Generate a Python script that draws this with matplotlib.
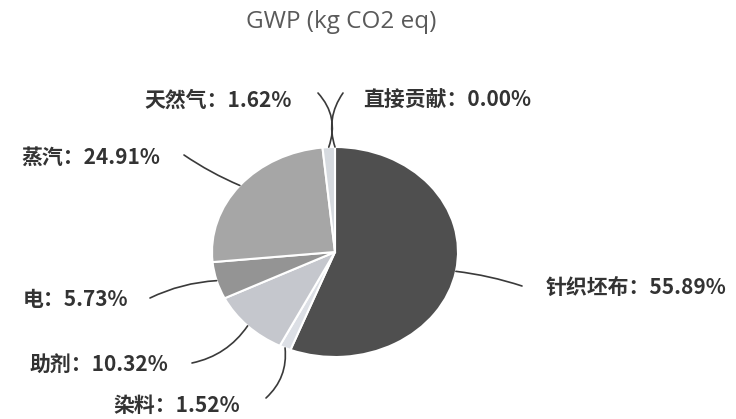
import numpy as np
import matplotlib
matplotlib.use('Agg')
import matplotlib.pyplot as plt

plt.rcParams['font.family'] = ['Noto Sans CJK SC', 'DejaVu Sans']

title = 'GWP (kg CO2 eq)'
labels = ['直接贡献', '针织坯布', '染料', '助剂', '电', '蒸汽', '天然气']
values = [0.00, 55.89, 1.52, 10.32, 5.73, 24.91, 1.62]
colors = ['#d8dce2', '#4f4f4f', '#dcdfe5', '#c5c7cd', '#949494', '#a6a6a6', '#d6dadf']

W, H = 736, 419
CX, CY, RX, RY = 335, 252, 123, 105


def px(x, y):
    # image pixel (from top-left) -> data coords of the pie axes
    return (x - CX) / RX, (CY - y) / RY


fig = plt.figure(figsize=(W / 100, H / 100), dpi=100)
ax = fig.add_axes([0, 0, 1, 1])
wedges, _ = ax.pie(values, colors=colors, startangle=90, counterclock=False,
                   radius=1, center=(0, 0),
                   wedgeprops=dict(edgecolor='white', linewidth=1.5))
ax.set_xlim(px(0, 0)[0], px(W, 0)[0])
ax.set_ylim(px(0, H)[1], px(0, 0)[1])
ax.set_aspect('auto')
ax.axis('off')

# label text position (px), alignment, connector curvature
layout = {
    '直接贡献': ((363, 100), 'left', 0.25),
    '针织坯布': ((546, 287), 'left', 0.05),
    '染料': ((240, 405), 'right', 0.25),
    '助剂': ((168, 364), 'right', 0.2),
    '电': ((128, 299), 'right', -0.1),
    '蒸汽': ((160, 157), 'right', 0.05),
    '天然气': ((292, 100), 'right', -0.3),
}

conn_start = {
    '直接贡献': (343, 93),
    '针织坯布': (522, 286),
    '染料': (266, 398),
    '助剂': (192, 363),
    '电': (150, 298),
    '蒸汽': (184, 155),
    '天然气': (318, 93),
}

for w, lab, v in zip(wedges, labels, values):
    mid = np.deg2rad((w.theta1 + w.theta2) / 2)
    anchor = (np.cos(mid), np.sin(mid))
    (tx, ty), ha, rad = layout[lab]
    ax.text(*px(tx, ty), f'{lab}：{v:.2f}%', ha=ha, va='center',
            fontsize=15, fontweight='bold', color='#333333')
    ax.annotate('', xy=anchor, xytext=px(*conn_start[lab]),
                arrowprops=dict(arrowstyle='-', color='#3a3a3a', lw=1.2,
                                connectionstyle=f'arc3,rad={rad}',
                                shrinkA=0, shrinkB=0))

ax.text(*px(341, 22), title, ha='center', va='center', fontsize=17.5,
        family='Open Sans', color='#5a5a5a')

fig.savefig('out.png', dpi=100)
